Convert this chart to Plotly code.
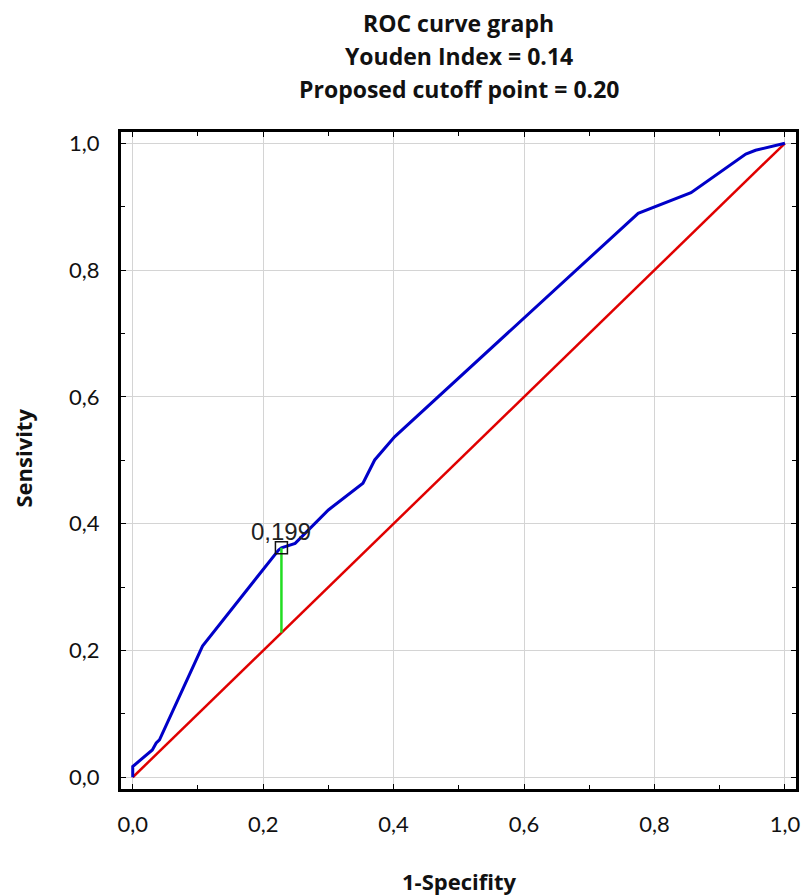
import plotly.graph_objects as go

# ROC curve (1-specificity, sensitivity)
fpr = [0.0, 0.0, 0.030, 0.036, 0.041, 0.107, 0.2236, 0.228, 0.249, 0.300, 0.353, 0.371,
       0.4015, 0.701, 0.775, 0.856, 0.940, 0.955, 1.0]
tpr = [0.0, 0.017, 0.043, 0.054, 0.059, 0.207, 0.3585, 0.362, 0.369, 0.4216, 0.4637, 0.5005,
       0.537, 0.821, 0.8896, 0.922, 0.983, 0.989, 1.0]

# reference (chance) line
diag_x = [0.0, 1.0]
diag_y = [0.0, 1.0]

# proposed cutoff
cut_x = 0.228
cut_y = 0.362
cut_label = "0,199"

title_lines = ["ROC curve graph", "Youden Index = 0.14", "Proposed cutoff point = 0.20"]
x_title = "1-Specifity"
y_title = "Sensivity"

TICK_FONT = "Lato"
TITLE_FONT = "Open Sans"

# plot area spans page x 121..800, y 132..789
W, H = 807, 896
ML, MR, MT, MB = 121, 7, 132, 107
PLOT_TOP, PLOT_BOTTOM, PLOT_LEFT = MT, H - MB, ML
PLOT_H = PLOT_BOTTOM - PLOT_TOP
PLOT_W = (W - MR) - PLOT_LEFT


def py_to_paper(py):
    return (PLOT_BOTTOM - py) / PLOT_H


def px_to_paper(px):
    return (px - PLOT_LEFT) / PLOT_W


fig = go.Figure()
fig.add_trace(go.Scatter(x=diag_x, y=diag_y, mode="lines",
                         line=dict(color="#e00000", width=2.5), showlegend=False, hoverinfo="skip"))
fig.add_trace(go.Scatter(x=fpr, y=tpr, mode="lines",
                         line=dict(color="#0000c8", width=3), showlegend=False))
fig.add_trace(go.Scatter(x=[cut_x, cut_x], y=[cut_x, cut_y], mode="lines",
                         line=dict(color="#22dd22", width=2.5), showlegend=False))
fig.add_trace(go.Scatter(x=[cut_x], y=[cut_y], mode="markers",
                         marker=dict(symbol="square-open", size=12, color="#111111",
                                     line=dict(width=1.5, color="#111111")),
                         showlegend=False))

fig.add_annotation(x=cut_x, y=cut_y, xref="x", yref="y", text=cut_label, showarrow=False,
                   yshift=16, font=dict(family="Liberation Sans, Arial", size=24, color="#222222"))

# titles
title_py = [23, 56, 89]
for line, py in zip(title_lines, title_py):
    fig.add_annotation(x=0.5, y=py_to_paper(py), xref="paper", yref="paper",
                       text="<b>" + line + "</b>", showarrow=False, xanchor="center",
                       yanchor="middle", font=dict(family=TITLE_FONT, size=23, color="#111111"))

fig.add_annotation(x=0.5, y=py_to_paper(881), xref="paper", yref="paper",
                   text="<b>" + x_title + "</b>", showarrow=False, xanchor="center",
                   yanchor="middle", font=dict(family=TITLE_FONT, size=22, color="#111111"))
fig.add_annotation(x=px_to_paper(22), y=py_to_paper(458), xref="paper", yref="paper",
                   text="<b>" + y_title + "</b>", showarrow=False, xanchor="center",
                   yanchor="middle", textangle=-90,
                   font=dict(family=TITLE_FONT, size=22, color="#111111"))

axis_common = dict(
    showline=True, linewidth=3, linecolor="black", mirror="allticks",
    ticks="inside", ticklen=5, tickwidth=1, tickcolor="black",
    showgrid=True, gridcolor="#d4d4d4", gridwidth=1, zeroline=False,
    dtick=0.2, tick0=0, tickformat=".1f",
    tickfont=dict(family=TICK_FONT, size=22, color="#111111"),
    minor=dict(dtick=0.1, ticks="inside", ticklen=4, tickcolor="black", showgrid=False),
    ticklabelstandoff=14,
)

fig.update_layout(
    width=W, height=H,
    margin=dict(l=ML, r=MR, t=MT, b=MB),
    paper_bgcolor="white", plot_bgcolor="white",
    separators=",.",
    xaxis=dict(range=[-0.018, 1.017], **axis_common),
    yaxis=dict(range=[-0.0185, 1.0178], **axis_common),
    showlegend=False,
)

fig.write_html(
    "out.html",
    config={"displayModeBar": False},
    post_script="document.body.style.margin='0';document.body.style.overflow='hidden';",
)
